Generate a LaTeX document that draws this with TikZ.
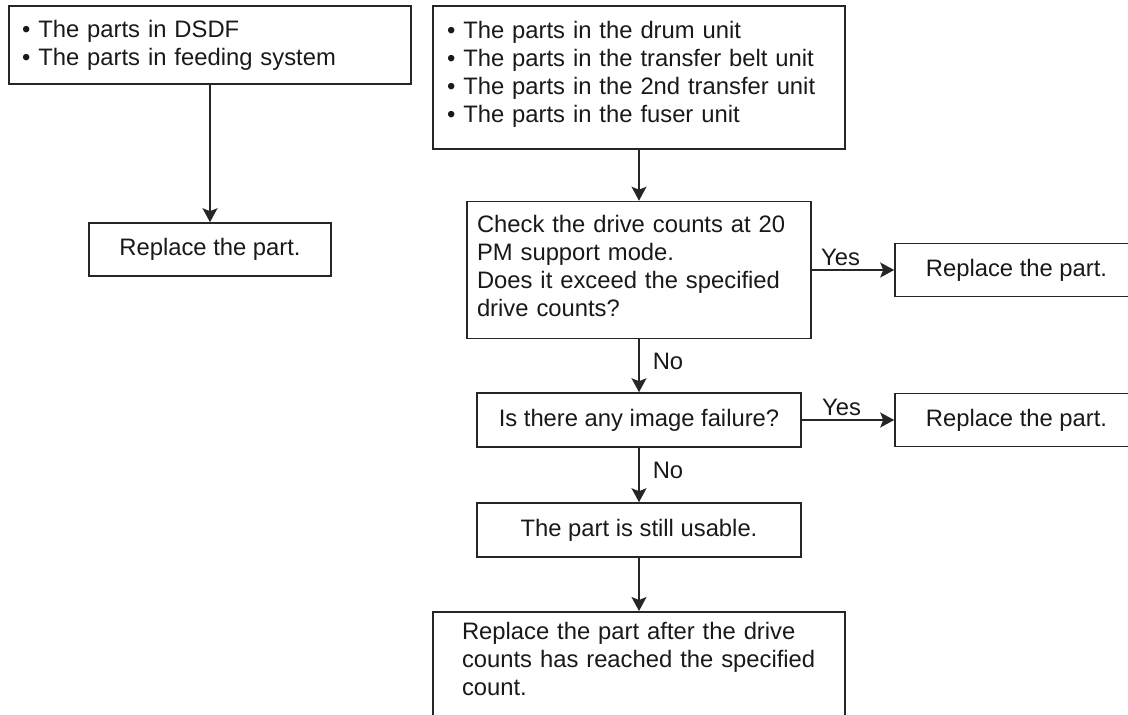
\documentclass[tikz,border=0pt]{standalone}
\usepackage{fontspec}
\setmainfont{Liberation Sans}
\usetikzlibrary{arrows.meta}

\tikzset{
  box/.style={draw=black!85, line width=0.8pt, inner ysep=0pt},
  flow/.style={draw=black!85, line width=0.8pt, -{Stealth[length=7pt,width=7.5pt,inset=1.5pt]}},
  lab/.style={inner sep=1.5pt}
}

\begin{document}
\begin{tikzpicture}[x=0.5pt, y=-0.5pt, font=\fontsize{11.9pt}{14pt}\selectfont, text=black!90]
  \useasboundingbox (0,0) rectangle (1128,714);
  \clip (0,0) rectangle (1128,714);
  % column centres
  \def\xl{210}
  \def\xm{639}
  \def\xr{1016.5}

  % left column
  \node[box, minimum width=201pt, minimum height=39pt, text width=188pt,
        inner xsep=6.5pt, align=left] (dsdf) at (\xl,45)
    {• The parts in DSDF\\
     • The parts in feeding system};
  \node[box, minimum width=121pt, minimum height=26.5pt] (repl0) at (\xl,249.5)
    {Replace the part.};

  % middle column
  \node[box, minimum width=206pt, minimum height=71.5pt, text width=192pt,
        inner xsep=7pt, text depth=48pt, align=left] (units) at (\xm,77.5)
    {• The parts in the drum unit\\
     • The parts in the transfer belt unit\\
     • The parts in the 2nd transfer unit\\
     • The parts in the fuser unit};
  \node[box, minimum width=172pt, minimum height=68.5pt, text width=162pt,
        inner xsep=5pt, text depth=46pt, align=left] (check) at (\xm,270)
    {Check the drive counts at 20\\
     PM support mode.\\
     Does it exceed the specified\\
     drive counts?};
  \node[box, minimum width=162pt, minimum height=27pt] (fail) at (\xm,420)
    {Is there any image failure?};
  \node[box, minimum width=162pt, minimum height=27pt] (usable) at (\xm,530)
    {The part is still usable.};
  \node[box, anchor=north, text width=177pt, inner xsep=14.5pt,
        text height=14pt, text depth=60pt, align=left] (after) at (\xm,611)
    {Replace the part after the drive\\
     counts has reached the specified\\
     count.};

  % right column
  \node[box, minimum width=121.5pt, minimum height=26.5pt] (repl1) at (\xr,270)
    {Replace the part.};
  \node[box, minimum width=121.5pt, minimum height=26.5pt] (repl2) at (\xr,420)
    {Replace the part.};

  % connectors
  \draw[flow] (dsdf) -- (repl0);
  \draw[flow] (units) -- (check);
  \draw[flow] (check) -- node[lab, pos=0.35, above] {Yes} (repl1);
  \draw[flow] (check) -- node[lab, pos=0.42, right=5pt] {No} (fail);
  \draw[flow] (fail) -- node[lab, pos=0.43, above] {Yes} (repl2);
  \draw[flow] (fail) -- node[lab, pos=0.42, right=5pt] {No} (usable);
  \draw[flow] (usable) -- (after);
\end{tikzpicture}
\end{document}
